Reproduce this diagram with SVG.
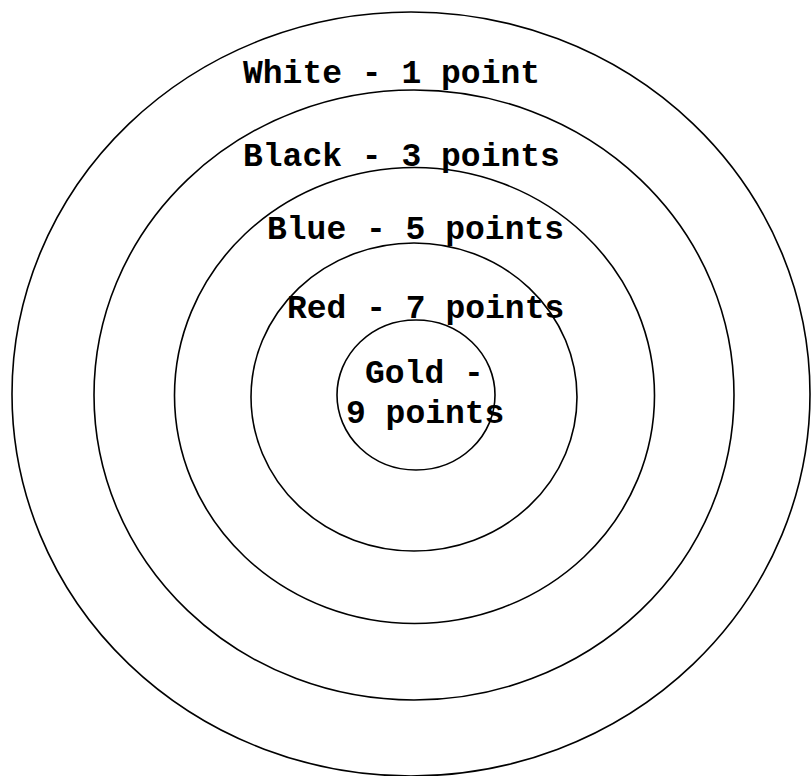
<svg xmlns="http://www.w3.org/2000/svg" width="812" height="776" viewBox="0 0 812 776">
  <style>
    .ring { fill: none; stroke: #000; stroke-width: 1.6; }
    .lbl { font-family: "Liberation Mono", "Courier New", monospace; font-weight: bold; font-size: 33px; fill: #000; }
  </style>
  <rect x="0" y="0" width="812" height="776" fill="#fff"/>
  <g id="ring-white">
    <ellipse class="ring" cx="411" cy="394" rx="399" ry="382"/>
    <text class="lbl" x="243" y="83">White - 1 point</text>
  </g>
  <g id="ring-black">
    <ellipse class="ring" cx="414" cy="395" rx="320" ry="305"/>
    <text class="lbl" x="243" y="166">Black - 3 points</text>
  </g>
  <g id="ring-blue">
    <ellipse class="ring" cx="414.5" cy="395.5" rx="240" ry="228"/>
    <text class="lbl" x="267" y="239">Blue - 5 points</text>
  </g>
  <g id="ring-red">
    <ellipse class="ring" cx="414" cy="397" rx="163" ry="154"/>
    <text class="lbl" x="287" y="318">Red - 7 points</text>
  </g>
  <g id="ring-gold">
    <ellipse class="ring" cx="416" cy="395" rx="79" ry="75"/>
    <text class="lbl" x="365" y="383">Gold -</text>
    <text class="lbl" x="346" y="423">9 points</text>
  </g>
  <g id="connectors"></g>
</svg>
